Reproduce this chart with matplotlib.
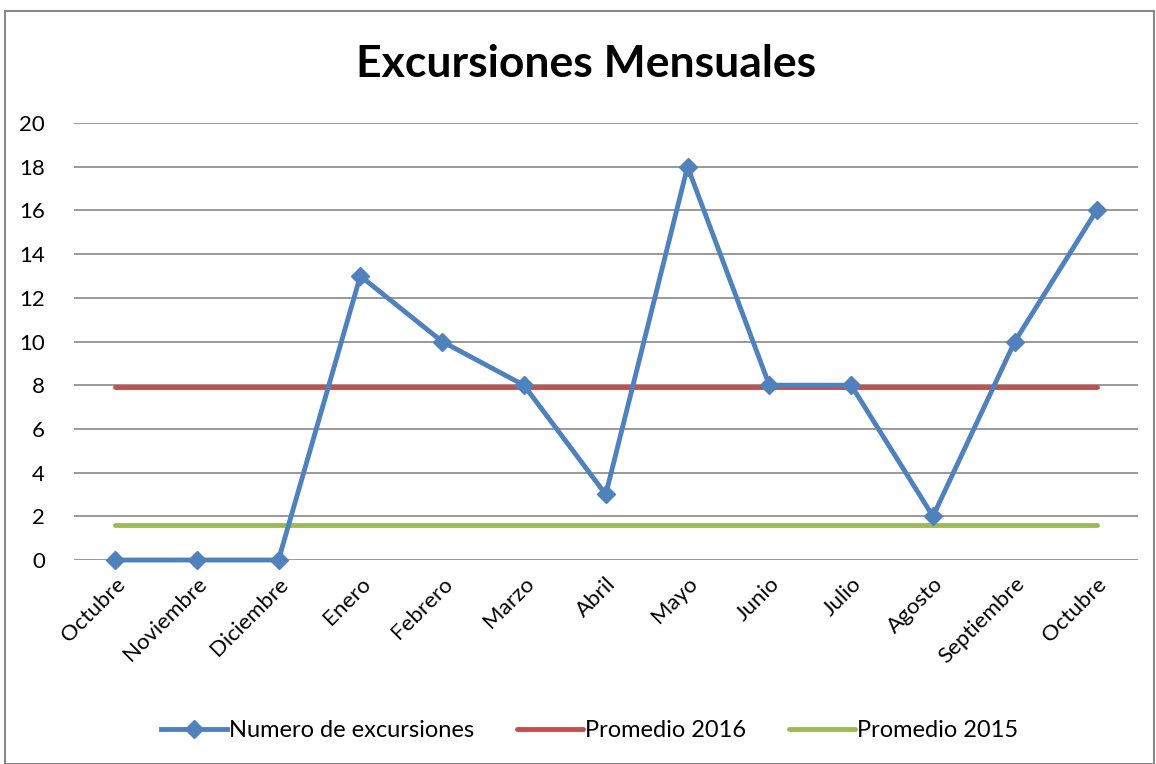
import matplotlib
matplotlib.use('Agg')
import matplotlib.pyplot as plt
from matplotlib.patches import Rectangle

meses = ['Octubre', 'Noviembre', 'Diciembre', 'Enero', 'Febrero', 'Marzo', 'Abril',
         'Mayo', 'Junio', 'Julio', 'Agosto', 'Septiembre', 'Octubre']
excursiones = [0, 0, 0, 13, 10, 8, 3, 18, 8, 8, 2, 10, 16]
promedio_2016 = 7.9
promedio_2015 = 1.6

plt.rcParams['font.family'] = ['Lato', 'DejaVu Sans']

fig = plt.figure(figsize=(11.56, 7.64), dpi=100)
ax = fig.add_axes([0.064, 0.267, 0.92, 0.572])

x = list(range(len(meses)))
ax.plot(x, excursiones, color='#4F81BD', lw=3.5, marker='D', markersize=9,
        label='Numero de excursiones', zorder=4)
ax.plot(x, [promedio_2016] * len(x), color='#C0504D', lw=3.5,
        solid_capstyle='round', label='Promedio 2016', zorder=3)
ax.plot(x, [promedio_2015] * len(x), color='#9BBB59', lw=3.5,
        solid_capstyle='round', label='Promedio 2015', zorder=3)

ax.set_xlim(-0.5, len(meses) - 0.5)
ax.set_ylim(0, 20)
ax.set_yticks(range(0, 21, 2))
ax.set_xticks(x)
ax.set_xticklabels(meses, rotation=45, ha='right', rotation_mode='anchor')
ax.tick_params(axis='both', length=0, labelsize=16, pad=10)
ax.tick_params(axis='y', pad=21)
ax.grid(axis='y', color='#888888', lw=1.2)
ax.set_axisbelow(True)
for s in ax.spines.values():
    s.set_visible(False)
for line in ax.lines:
    line.set_clip_on(False)

fig.text(0.507, 0.916, 'Excursiones Mensuales', ha='center', va='center',
         fontsize=32, fontweight='bold')

fig.legend(loc='center', bbox_to_anchor=(0.51, 0.044), ncol=3, frameon=False,
           fontsize=17, handlelength=2.8, columnspacing=1.8, handletextpad=0.1)

fig.patches.append(Rectangle((0.004, 0.0), 0.994, 0.986, transform=fig.transFigure,
                             fill=False, edgecolor='#888888', lw=1.5))

plt.savefig('out.png', dpi=100)
